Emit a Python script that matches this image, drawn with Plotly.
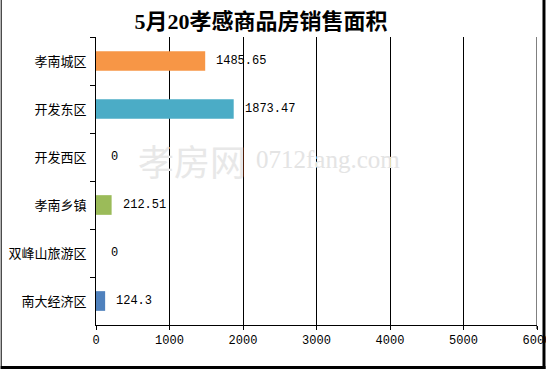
import plotly.graph_objects as go

categories = ["孝南城区", "开发东区", "开发西区", "孝南乡镇", "双峰山旅游区", "南大经济区"]
values = [1485.65, 1873.47, 0, 212.51, 0, 124.3]
value_labels = ["1485.65", "1873.47", "0", "212.51", "0", "124.3"]
colors = ["#F79646", "#4BACC6", "#4BACC6", "#9BBB59", "#9BBB59", "#4F81BD"]
x_ticks = [0, 1000, 2000, 3000, 4000, 5000, 6000]
title_text = "5月20孝感商品房销售面积"

px_w, px_h = 442.0, 288.0
def fx(p):
    return (p - 95.5) / px_w
def fy(p):
    return (325 - p) / px_h

fig = go.Figure()
fig.add_trace(go.Bar(
    y=categories, x=values, orientation="h",
    marker=dict(color=colors, line=dict(width=0)),
    width=0.41, hoverinfo="x+y",
))

annotations = []
for c, v, t in zip(categories, values, value_labels):
    annotations.append(dict(
        x=v, y=c, xref="x", yref="y", text=t, showarrow=False,
        xanchor="left", yanchor="middle", xshift=9 if v > 0 else 13,
        font=dict(family="Liberation Mono, DejaVu Sans Mono, monospace", size=12, color="#000"),
    ))

# watermark
annotations.append(dict(
    x=fx(192), y=fy(160), xref="paper", yref="paper", showarrow=False,
    text="孝房网", font=dict(family="Noto Sans CJK SC", size=36, color="#e8e8e8"),
    xanchor="center", yanchor="middle",
))
annotations.append(dict(
    x=fx(328), y=fy(159), xref="paper", yref="paper", showarrow=False,
    text="0712fang.com", font=dict(family="Liberation Serif", size=25, color="#e4e4e4"),
    xanchor="center", yanchor="middle",
))

fig.update_layout(
    width=546, height=369,
    margin=dict(l=95.5, r=8.5, t=37, b=44, autoexpand=False),
    paper_bgcolor="white", plot_bgcolor="white",
    showlegend=False,
    title=dict(
        text="<b>" + title_text + "</b>", x=261 / 546, xanchor="center",
        y=1 - 21 / 369, yanchor="middle",
        font=dict(family="Liberation Serif, Noto Sans CJK SC", size=22, color="#000"),
    ),
    xaxis=dict(
        range=[0, 6000], tickvals=x_ticks, ticktext=[str(v) for v in x_ticks],
        showgrid=True, gridcolor="#000", gridwidth=1,
        showline=True, linecolor="#000", linewidth=1,
        ticks="outside", ticklen=4, tickcolor="#000",
        tickfont=dict(family="Liberation Mono, DejaVu Sans Mono, monospace", size=12, color="#000"),
        ticklabeloverflow="allow", automargin=False,
        zeroline=False, fixedrange=True,
    ),
    yaxis=dict(
        autorange="reversed", showgrid=False,
        showline=True, linecolor="#000", linewidth=1,
        ticks="outside", ticklen=5, tickcolor="#000", tickson="boundaries",
        tickfont=dict(family="Noto Sans CJK SC", size=13, color="#000"),
        ticklabelstandoff=6, automargin=False,
    ),
    annotations=annotations,
)

# gridline and tick at the last x tick (plot edge)
fig.add_shape(type="line", xref="x", yref="paper", x0=x_ticks[-1], x1=x_ticks[-1], y0=fy(329), y1=1,
              line=dict(color="#000", width=1), layer="above")

# outer frame
fig.add_shape(type="line", xref="paper", yref="paper", x0=fx(0.5), x1=fx(0.5), y0=fy(0), y1=fy(369),
              line=dict(color="#000", width=1), layer="above")
fig.add_shape(type="line", xref="paper", yref="paper", x0=fx(544.5), x1=fx(544.5), y0=fy(0), y1=fy(369),
              line=dict(color="#000", width=3), layer="above")
fig.add_shape(type="line", xref="paper", yref="paper", x0=fx(0), x1=fx(546), y0=fy(367.5), y1=fy(367.5),
              line=dict(color="#000", width=3), layer="above")

fig.write_html("out.html")
